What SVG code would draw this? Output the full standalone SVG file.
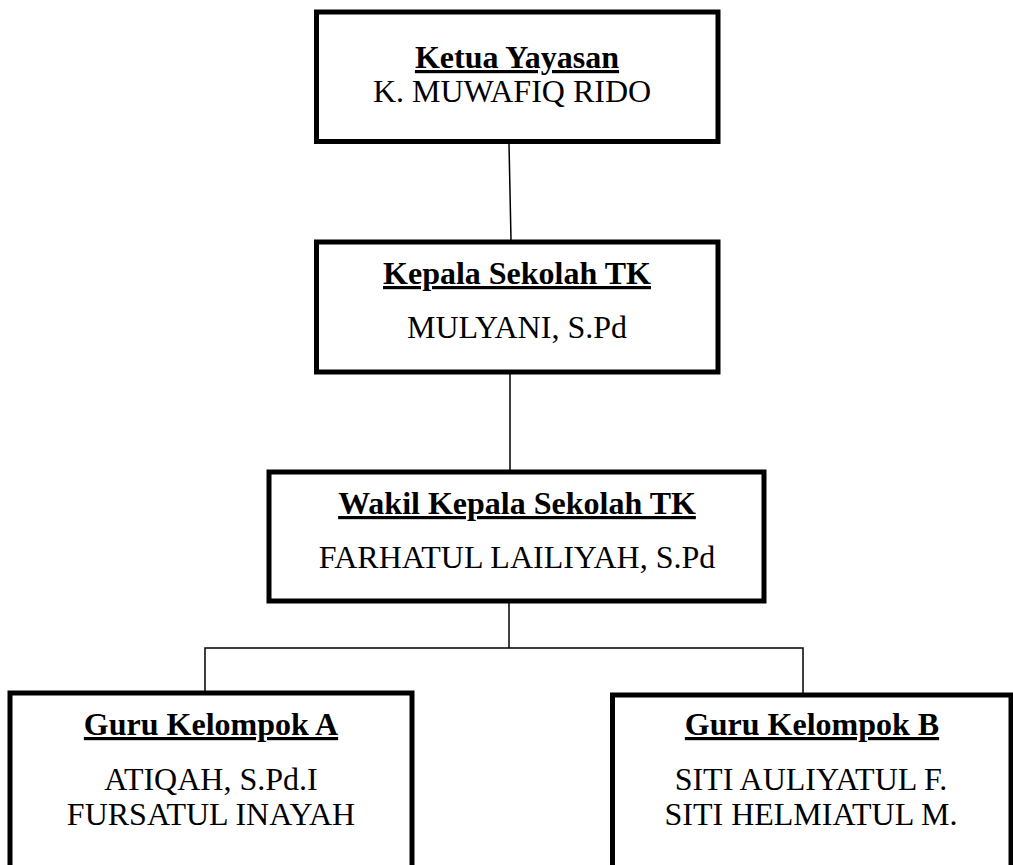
<svg xmlns="http://www.w3.org/2000/svg" width="1013" height="865" viewBox="0 0 1013 865">
<style>
.box{fill:#fff;stroke:#000;stroke-width:5}
.conn{stroke:#000;stroke-width:1.5;fill:none}
.t{font-family:"Liberation Serif","Times New Roman",serif;font-size:32px;text-anchor:middle;fill:#000}
.h{font-weight:bold;text-decoration:underline}
</style>
<rect width="1013" height="865" fill="#fff"/>
<g id="connectors">
<line class="conn" x1="509" y1="144" x2="511" y2="240"/>
<line class="conn" x1="510" y1="374" x2="510" y2="470"/>
<polyline class="conn" points="509,603 509,648"/>
<polyline class="conn" points="205,691 205,648 803,648 803,693"/>
</g>
<g id="ketua">
<rect class="box" x="316.5" y="12" width="401.5" height="129.5"/>
<text class="t h" x="517" y="68">Ketua Yayasan</text>
<text class="t" x="512" y="102">K. MUWAFIQ RIDO</text>
</g>
<g id="kepala">
<rect class="box" x="316.5" y="242" width="401.5" height="130"/>
<text class="t h" x="517" y="284">Kepala Sekolah TK</text>
<text class="t" x="517" y="338">MULYANI, S.Pd</text>
</g>
<g id="wakil">
<rect class="box" x="269" y="472" width="495" height="129"/>
<text class="t h" x="517" y="514">Wakil Kepala Sekolah TK</text>
<text class="t" x="517" y="568">FARHATUL LAILIYAH, S.Pd</text>
</g>
<g id="guruA">
<rect class="box" x="10" y="693" width="402" height="200"/>
<text class="t h" x="211" y="735">Guru Kelompok A</text>
<text class="t" x="211" y="790">ATIQAH, S.Pd.I</text>
<text class="t" x="211" y="825">FURSATUL INAYAH</text>
</g>
<g id="guruB">
<rect class="box" x="612.5" y="695" width="398.5" height="200"/>
<text class="t h" x="812" y="735">Guru Kelompok B</text>
<text class="t" x="811" y="790">SITI AULIYATUL F.</text>
<text class="t" x="811" y="825">SITI HELMIATUL M.</text>
</g>
</svg>
